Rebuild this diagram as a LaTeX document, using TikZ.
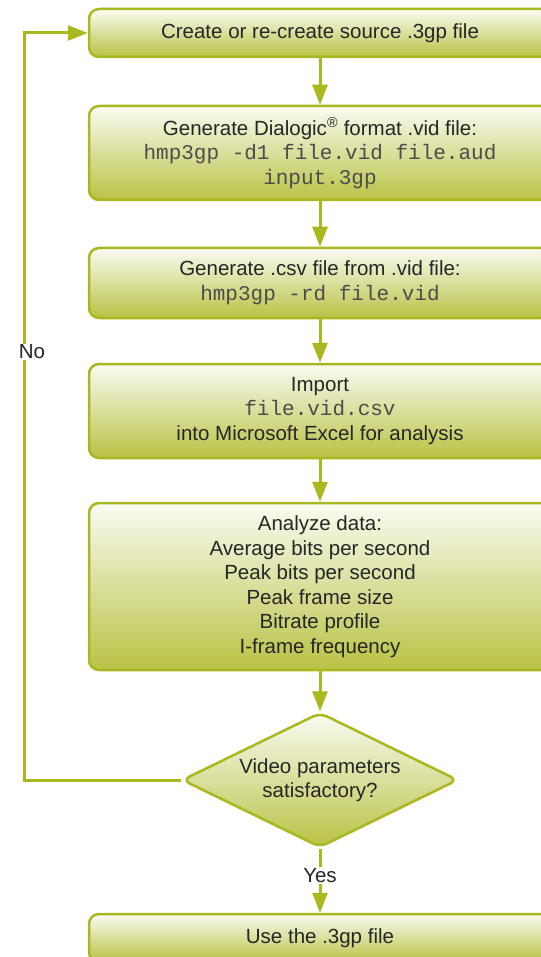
\documentclass[tikz,border=0pt]{standalone}
\usepackage{fontspec}
\setmainfont{Liberation Sans}
\setmonofont{Liberation Mono}
\usetikzlibrary{shapes.geometric,arrows.meta}
\definecolor{boxline}{HTML}{A9B81E}
\definecolor{boxtop}{HTML}{FAFBF2}
\definecolor{boxbot}{HTML}{B9C244}
\newcommand{\cmd}[1]{{\fontsize{21}{24.5}\selectfont\ttfamily\color{black!70}#1}}
\begin{document}
\begin{tikzpicture}[x=1pt,y=-1pt,
  stepbox/.style={draw=boxline, line width=2.5pt, rounded corners=10pt,
    top color=boxtop, bottom color=boxbot, minimum width=462pt,
    inner sep=0pt, align=center, text=black!85,
    font=\fontsize{20.5}{24.5}\selectfont},
  testbox/.style={diamond, shape aspect=2.05, draw=boxline, line width=2.5pt,
    rounded corners=8pt, top color=boxtop, bottom color=boxbot,
    minimum width=276pt, minimum height=135pt, inner sep=0pt, align=center,
    text=black!85, font=\fontsize{20.5}{24.5}\selectfont},
  flow/.style={draw=boxline, line width=3pt,
    -{Triangle[length=20pt,width=15pt]}},
  tag/.style={fill=white, inner sep=1pt, text=black!85,
    font=\fontsize{20.5}{22}\selectfont}]
\useasboundingbox (0,0) rectangle (540,957);
% boxes
\node[stepbox, minimum height=48pt] (create) at (320,33) {Create or re-create source .3gp file};
\node[stepbox, minimum height=94pt] (gen) at (320,153)
  {Generate Dialogic\textsuperscript{®} format .vid file:\\
   \cmd{hmp3gp -d1 file.vid file.aud}\\ \cmd{input.3gp}};
\node[stepbox, minimum height=70pt] (csv) at (320,283)
  {Generate .csv file from .vid file:\\ \cmd{hmp3gp -rd file.vid}};
\node[stepbox, minimum height=94pt] (import) at (320,411)
  {Import\\ \cmd{file.vid.csv}\\ into Microsoft Excel for analysis};
\node[stepbox, minimum height=167pt] (analyze) at (320,586.5)
  {Analyze data:\\ Average bits per second\\ Peak bits per second\\
   Peak frame size\\ Bitrate profile\\ I-frame frequency};
\node[testbox] (check) at (320,780) {Video parameters\\ satisfactory?};
\node[stepbox, minimum height=48pt] (use) at (320,938) {Use the .3gp file};
% arrows
\draw[flow] (create) -- (gen);
\draw[flow] (gen) -- (csv);
\draw[flow] (csv) -- (import);
\draw[flow] (import) -- (analyze);
\draw[flow] (analyze) -- (check);
\draw[flow] (check) -- node[tag, pos=0.42]{Yes} (use);
\draw[flow] (check.west) -- (24,780) |- (create.west);
\node[tag] (no) at (32,352) {No};
\end{tikzpicture}
\end{document}
